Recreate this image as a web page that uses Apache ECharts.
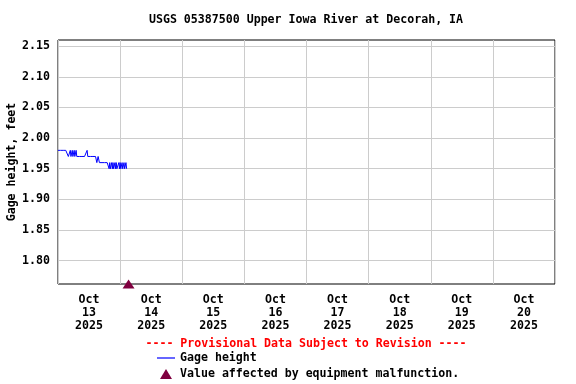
<!DOCTYPE html>
<html>
<head>
<meta charset="utf-8">
<script src="https://cdn.jsdelivr.net/npm/echarts@6/dist/echarts.min.js"></script>
<style>html,body{margin:0;padding:0;background:#fff}#c{width:576px;height:384px}</style>
</head>
<body>
<div id="c"></div>
<script>
// ---- data ----
var titleText = 'USGS 05387500 Upper Iowa River at Decorah, IA';
var yAxisName = 'Gage height, feet';
var provisionalText = '---- Provisional Data Subject to Revision ----';
var seriesName = 'Gage height';
var flagName = 'Value affected by equipment malfunction.';
// x values are hours since Oct 13 2025 00:00; readings every 15 minutes
var stepHours = 0.25;
var gageHeight = [
  1.98,1.98,1.98,1.98,1.98,1.98,1.98,1.98,1.98,1.98,1.98,1.98,1.98,1.98,1.98,1.98,
  1.97,1.97,1.97,1.98,1.97,1.97,1.98,1.97,1.97,1.98,1.97,1.97,1.98,
  1.97,1.97,1.97,1.97,1.97,1.97,1.97,1.97,1.97,1.97,1.97,1.97,1.97,1.97,1.97,1.97,
  1.98,
  1.97,1.97,1.97,1.97,1.97,1.97,1.97,1.97,1.97,1.97,1.97,1.97,1.97,1.97,
  1.96,1.96,1.97,1.97,
  1.96,1.96,1.96,1.96,1.96,1.96,1.96,1.96,1.96,1.96,1.96,1.96,1.96,1.96,1.96,
  1.95,1.96,1.95,1.95,1.96,1.95,1.96,1.95,1.95,1.96,1.95,1.96,1.95,1.95,1.95,
  1.96,1.95,1.96,1.95,1.95,1.96,1.95,1.95,1.96,1.95,1.95,1.96,1.95,1.95
];
var flagHour = 27.25;          // Oct 14 03:15
var flagValue = 1.762;
var yTicks = [1.80, 1.85, 1.90, 1.95, 2.00, 2.05, 2.10, 2.15];
var yMin = 1.762, yMax = 2.16;
var xMin = 0, xMax = 192;      // Oct 13 00:00 .. Oct 21 00:00
var dayGridHours = [0, 24, 48, 72, 96, 120, 144, 168, 192];
var dayLabelHours = [12, 36, 60, 84, 108, 132, 156, 180];
var dayLabels = ['13', '14', '15', '16', '17', '18', '19', '20'];
var monthName = 'Oct', yearName = '2025';

// ---- build ----
var lineData = gageHeight.map(function(v, i){ return [i * stepHours, v]; });
var FONT = 'DejaVu Sans Mono';
var FS = 11.6;

var chart = echarts.init(document.getElementById('c'), null, {renderer: 'canvas'});
chart.setOption({
  animation: false,
  backgroundColor: '#fff',
  textStyle: {fontFamily: FONT, fontWeight: 'bold', fontSize: FS, color: '#000'},
  grid: {left: 58, right: 21, top: 40, bottom: 100, show: true, borderColor: '#000', borderWidth: 1,
         containLabel: false, outerBoundsMode: 'none'},
  graphic: [
    {type: 'text', x: 306, y: 20, style: {text: titleText, fontFamily: FONT, fontWeight: 'bold', fontSize: FS, fill: '#000', align: 'center', verticalAlign: 'middle'}},
    {type: 'text', x: 306, y: 344, style: {text: provisionalText, fontFamily: FONT, fontWeight: 'bold', fontSize: FS, fill: '#ff0000', align: 'center', verticalAlign: 'middle'}}
  ],
  legend: {
    orient: 'vertical', left: 157, top: 351, itemWidth: 18, itemHeight: 10, itemGap: 2, padding: 0,
    textStyle: {fontFamily: FONT, fontWeight: 'bold', fontSize: FS, color: '#000', lineHeight: 14},
    data: [
      {name: seriesName, icon: 'path://M0,0 L18,0 L18,1.2 L0,1.2 Z', itemStyle: {color: '#0000ff', opacity: 1}},
      {name: flagName, icon: 'path://M6,0 L12,10 L0,10 Z', itemStyle: {color: '#800040', opacity: 1}}
    ],
    selectedMode: false
  },
  xAxis: {
    type: 'value', min: xMin, max: xMax,
    axisLine: {show: false}, axisTick: {show: false, customValues: dayGridHours},
    splitLine: {show: true, lineStyle: {color: '#cccccc', width: 1}},
    axisLabel: {
      customValues: dayLabelHours, margin: 9, lineHeight: 13,
      fontFamily: FONT, fontWeight: 'bold', fontSize: FS, color: '#000',
      formatter: function(v){
        var k = dayLabelHours.indexOf(v);
        return monthName + '\n' + dayLabels[k] + '\n' + yearName;
      }
    }
  },
  yAxis: {
    type: 'value', min: yMin, max: yMax,
    name: yAxisName, nameLocation: 'middle', nameGap: 40, nameMoveOverlap: false,
    nameTextStyle: {fontFamily: FONT, fontWeight: 'bold', fontSize: FS, color: '#000'},
    axisLine: {show: false}, axisTick: {show: false, customValues: yTicks},
    splitLine: {show: true, lineStyle: {color: '#cccccc', width: 1}},
    axisLabel: {customValues: yTicks, margin: 8, fontFamily: FONT, fontWeight: 'bold', fontSize: FS, color: '#000',
      formatter: function(v){ return v.toFixed(2); }}
  },
  series: [
    {name: seriesName, type: 'line', data: lineData, showSymbol: false, symbol: 'none',
     lineStyle: {color: '#0000ff', width: 1}, itemStyle: {color: '#0000ff'}},
    {name: flagName, type: 'scatter', data: [[flagHour, flagValue]], symbol: 'triangle', symbolSize: [12, 9],
     itemStyle: {color: '#800040', opacity: 1}, z: 5}
  ]
});
</script>
</body>
</html>
